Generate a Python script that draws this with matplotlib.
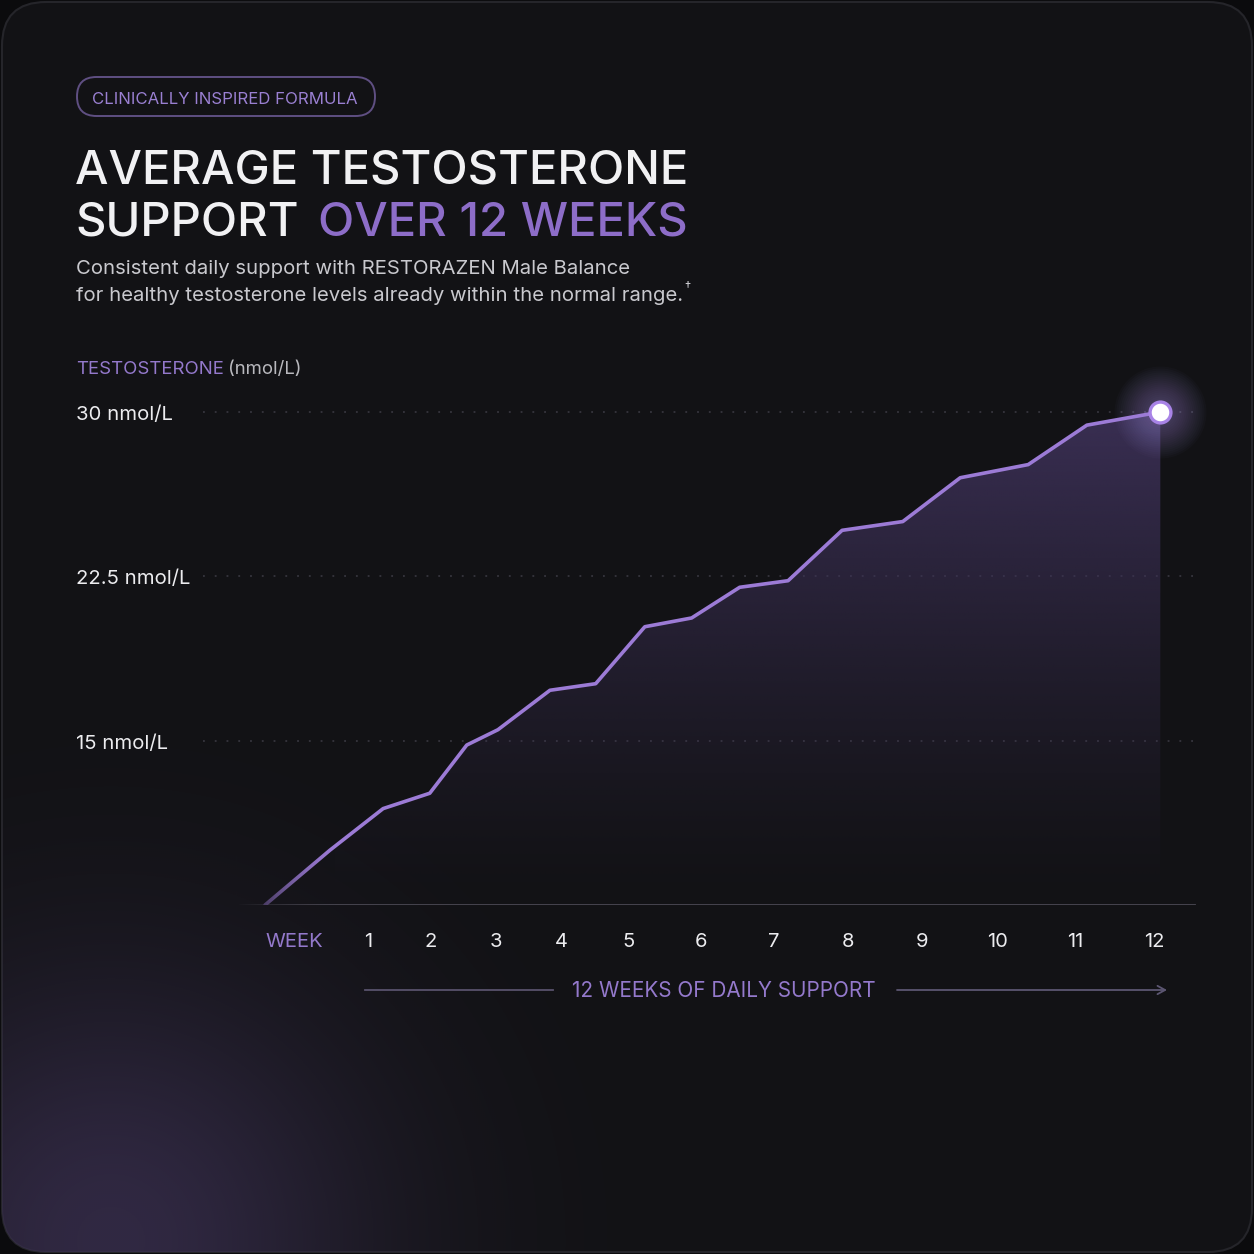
import numpy as np
import matplotlib
matplotlib.use('Agg')
import matplotlib.pyplot as plt
from matplotlib.patches import FancyBboxPatch, Polygon
from matplotlib import transforms
from matplotlib.colors import to_rgb

# ---------------- data ----------------
weeks = list(range(1, 13))
week_labels = [str(w) for w in weeks]
# vertices of the testosterone curve (week, nmol/L)
level_week = [0.0, 0.63, 1.24, 1.98, 2.55, 3.03, 3.83, 4.51, 5.22, 5.87,
              6.53, 7.19, 7.92, 8.74, 9.51, 10.40, 11.15, 12.08]
level_nmol = [7.5, 10.0, 11.9, 12.6, 14.8, 15.5, 17.3, 17.6, 20.2, 20.6,
              22.0, 22.3, 24.6, 25.0, 27.0, 27.6, 29.4, 30.0]
y_ticks = [30, 22.5, 15]
y_tick_labels = ['30 nmol/L', '22.5 nmol/L', '15 nmol/L']
y_base = 7.5

# ---------------- style ----------------
W = H = 1254
DPI = 100
BG = '#121215'
HAZE = '#3b3052'
PURPLE = '#9c7bd6'
PURPLE_TXT = '#9479cc'
TITLE_PURPLE = '#8d6dc8'
WHITE = '#f1f1f3'
FONT = ['Inter', 'DejaVu Sans']
plt.rcParams['font.family'] = FONT

fig = plt.figure(figsize=(W / DPI, H / DPI), dpi=DPI, facecolor='#0b0b0d')


def haze_alpha(xx, yy):
    return 0.75 * np.exp(-(((xx - 110) / 260.0) ** 2 + ((yy - 1240) / 260.0) ** 2))


# background / decoration axes in pixel coordinates
ax_bg = fig.add_axes([0, 0, 1, 1], zorder=0)
ax_bg.set_xlim(0, W)
ax_bg.set_ylim(H, 0)
ax_bg.axis('off')

card = FancyBboxPatch((2, 2), W - 4, H - 4,
                      boxstyle='round,pad=0,rounding_size=44',
                      fc=BG, ec='#25252a', lw=1.5)
ax_bg.add_patch(card)

# bottom-left purple haze
yy, xx = np.mgrid[0:H:2, 0:W:2]
rgba = np.zeros(xx.shape + (4,))
rgba[..., :3] = to_rgb(HAZE)
rgba[..., 3] = haze_alpha(xx, yy)
im = ax_bg.imshow(rgba, extent=(0, W, H, 0), interpolation='bilinear', zorder=1)
im.set_clip_path(card)

# ---------------- chart axes ----------------
axis_weeks = np.arange(-1, 14)
axis_pos = np.array([162, 265, 368, 431, 496, 561, 629, 701, 774, 848,
                     922, 997, 1075, 1154, 1233], dtype=float)


def fwd(w):
    return np.interp(w, axis_weeks, axis_pos)


def inv(p):
    return np.interp(p, axis_pos, axis_weeks)


ax_left, ax_right = 200, 1200
ax_top_px, ax_bot_px = 360, 905
px_per_unit = (905 - 412) / 22.5
ax = fig.add_axes([ax_left / W, 1 - ax_bot_px / H, (ax_right - ax_left) / W,
                   (ax_bot_px - ax_top_px) / H], zorder=2)
ax.set_xscale('function', functions=(fwd, inv))
XL = (inv(ax_left), inv(ax_right))
YL = (y_base, y_base + (ax_bot_px - ax_top_px) / px_per_unit)
ax.set_xlim(XL)
ax.set_ylim(YL)
ax.patch.set_alpha(0)
ax.axis('off')

# grid lines
for yv in y_ticks:
    ax.axhline(yv, xmin=0.003, xmax=0.995, color='#3c3b44', lw=1.1,
               ls=(0, (1.2, 6.5)), zorder=1)
ax.axhline(y_base, xmin=0.04, xmax=0.995, color='#4a4852', lw=1.3, zorder=2)

# gradient fill under curve
poly = Polygon(np.column_stack([level_week + [level_week[-1], level_week[0]],
                                level_nmol + [y_base, y_base]]),
               closed=True, fc='none', ec='none', transform=ax.transData)
ax.add_patch(poly)
gy = np.linspace(1, 0, 256)[:, None] * np.ones((1, 8))
grad = np.zeros(gy.shape + (4,))
grad[..., :3] = to_rgb('#3d3158')
grad[..., 3] = 0.95 * gy ** 1.3
gim = ax.imshow(grad, extent=(XL[0], XL[1], y_base, 30.5), aspect='auto',
                interpolation='bilinear', zorder=1.5)
gim.set_clip_path(poly)
ax.set_xlim(XL)
ax.set_ylim(YL)

# curve
ax.plot(level_week, level_nmol, color=PURPLE, lw=2.6, solid_joinstyle='round',
        solid_capstyle='round', zorder=4)

# endpoint glow + marker
radii = np.linspace(46, 12, 18)
for r in radii:
    ax.scatter([level_week[-1]], [level_nmol[-1]], s=(2 * r / 1.389) ** 2,
               color='#b49cf0', alpha=0.022, lw=0, zorder=3, clip_on=False)
ax.plot([level_week[-1]], [level_nmol[-1]], 'o', ms=15, mfc='#ffffff',
        mec='#a883e6', mew=2.4, zorder=6, clip_on=False)

# ---------------- overlay axes (texts, fades) ----------------
ax_top = fig.add_axes([0, 0, 1, 1], zorder=5)
ax_top.set_xlim(0, W)
ax_top.set_ylim(H, 0)
ax_top.axis('off')
ax_top.patch.set_alpha(0)

# fade-in at the start of the curve (background-coloured veil)
fx0, fx1, fy0, fy1 = 236, 338, 808, 912
fyy, fxx = np.mgrid[fy0:fy1:1.0, fx0:fx1:1.0]
ha = haze_alpha(fxx, fyy)[..., None]
fade = np.zeros(fxx.shape + (4,))
fade[..., :3] = np.array(to_rgb(BG)) * (1 - ha) + np.array(to_rgb(HAZE)) * ha
fade[..., 3] = np.clip(1 - (fxx - fx0) / (fx1 - fx0), 0, 1) ** 1.6
ax_top.imshow(fade, extent=(fx0, fx1, fy1, fy0), aspect='auto',
              interpolation='bilinear', zorder=1)
ax_top.set_xlim(0, W)
ax_top.set_ylim(H, 0)

# badge
badge = FancyBboxPatch((77, 77), 298, 39,
                       boxstyle='round,pad=0,rounding_size=19.5',
                       fc='none', ec='#5f4f82', lw=1.4)
ax_top.add_patch(badge)
ax_top.text(225, 97.5, 'CLINICALLY INSPIRED FORMULA', color='#9a80d2',
            fontsize=12.1, ha='center', va='center_baseline')

# title
TS = 34
ax_top.text(75, 184, 'AVERAGE TESTOSTERONE', color=WHITE, fontsize=TS,
            fontweight='medium', ha='left', va='baseline')
ax_top.text(75, 235, 'SUPPORT', color=WHITE, fontsize=TS,
            fontweight='medium', ha='left', va='baseline')
ax_top.text(318, 235, 'OVER 12 WEEKS', color=TITLE_PURPLE, fontsize=TS,
            fontweight='medium', ha='left', va='baseline')

# subtitle
ax_top.text(76, 274, 'Consistent daily support with RESTORAZEN Male Balance',
            color='#c9c9ce', fontsize=14.6, ha='left', va='baseline')
sub2 = ax_top.text(76, 301,
                   'for healthy testosterone levels already within the normal range.',
                   color='#c9c9ce', fontsize=14.6, ha='left', va='baseline')
fig.canvas.draw()
bb = sub2.get_window_extent()
x_end = ax_top.transData.inverted().transform((bb.x1, bb.y0))[0]
ax_top.text(x_end + 1.5, 290, '\u2020', color='#c9c9ce', fontsize=9,
            ha='left', va='baseline')

# y-axis title
ax_top.text(76, 374, 'TESTOSTERONE', color=PURPLE_TXT, fontsize=13.4,
            ha='left', va='baseline')
ax_top.text(228, 374, '(nmol/L)', color='#b9b9be', fontsize=13.4,
            ha='left', va='baseline')

# y tick labels (y in data units)
tr_y = transforms.offset_copy(
    transforms.blended_transform_factory(ax_top.transData, ax.transData),
    fig=fig, x=0, y=-3, units='dots')
for yv, lab in zip(y_ticks, y_tick_labels):
    ax_top.text(76, yv, lab, color='#ececef', fontsize=14.6, ha='left',
                va='center', transform=tr_y)

# week labels (x in data units)
tr_x = transforms.blended_transform_factory(ax.transData, ax_top.transData)
for w, lab in zip(weeks, week_labels):
    ax_top.text(w, 942, lab, color='#ececef', fontsize=14.5, ha='center',
                va='center', transform=tr_x)
ax_top.text(294, 942, 'WEEK', color=PURPLE_TXT, fontsize=14.5, ha='center',
            va='center')

# bottom caption with arrow
ax_top.text(724, 991, '12 WEEKS OF DAILY SUPPORT', color='#9479cc',
            fontsize=14.9, ha='center', va='center')
ax_top.plot([365, 553], [990, 990], color='#58526c', lw=1.3)
ax_top.annotate('', xy=(1167, 990), xytext=(897, 990),
                arrowprops=dict(arrowstyle='->,head_length=0.55,head_width=0.3',
                                color='#5c5672', lw=1.3, shrinkA=0, shrinkB=0))

fig.savefig('out.png', dpi=DPI, facecolor=fig.get_facecolor())
